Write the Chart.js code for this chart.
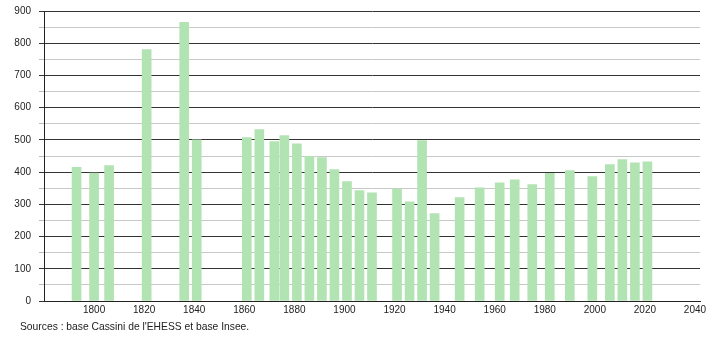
<!DOCTYPE html>
<html>
<head>
<meta charset="utf-8">
<script src="https://cdn.jsdelivr.net/npm/chart.js@4.4.1/dist/chart.umd.min.js"></script>
<style>
  body { margin: 0; background: #fff; }
  #wrap { position: relative; width: 710px; height: 340px; overflow: hidden; }
  #popChart { position: absolute; left: 0; top: -3px; }
  #source { position: absolute; left: 20px; top: 321px; font: 10.3px "Liberation Sans", Arial, sans-serif; color: #222; }
</style>
</head>
<body>
<div id="wrap">
  <canvas id="popChart" width="710" height="343"></canvas>
  <div id="source">Sources : base Cassini de l'EHESS et base Insee.</div>
</div>
<script>
// census years and population
var years = [1793, 1800, 1806, 1821, 1836, 1841, 1861, 1866, 1872, 1876, 1881, 1886, 1891, 1896,
             1901, 1906, 1911, 1921, 1926, 1931, 1936, 1946, 1954, 1962, 1968, 1975, 1982, 1990,
             1999, 2006, 2011, 2016, 2021];
var population = [415, 397, 420, 780, 865, 500, 507, 532, 495, 513, 488, 449, 445, 408,
                  371, 343, 336, 348, 308, 498, 271, 321, 351, 367, 376, 361, 396, 405,
                  386, 423, 439, 429, 432];
var xTickYears = [1800, 1820, 1840, 1860, 1880, 1900, 1920, 1940, 1960, 1980, 2000, 2020, 2040];
var yTickValues = [0, 100, 200, 300, 400, 500, 600, 700, 800, 900];

var points = [];
for (var i = 0; i < years.length; i++) {
    points.push({x: years[i], y: population[i]});
}

var ctx = document.getElementById('popChart').getContext('2d');
var chart = new Chart(ctx, {
    type: 'bar',
    data: {
        datasets: [{
            data: points,
            backgroundColor: 'rgb(178, 227, 178)',
            borderWidth: 0,
            barThickness: 9
        }]
    },
    options: {
        responsive: false,
        animation: false,
        events: [],
        layout: { padding: { top: 0, right: 10, bottom: 21, left: 0 } },
        plugins: { legend: { display: false }, tooltip: { enabled: false } },
        scales: {
            x: {
                type: 'linear',
                min: 1780,
                max: 2042,
                offset: false,
                grid: { display: false, drawTicks: false },
                border: { color: '#222', width: 1 },
                afterBuildTicks: function(axis) {
                    axis.ticks = xTickYears.map(function(v) { return {value: v}; });
                },
                ticks: {
                    autoSkip: false,
                    maxRotation: 0,
                    padding: 3,
                    color: '#222',
                    font: { family: 'Liberation Sans', size: 10 },
                    callback: function(v) { return String(v); }
                }
            },
            y: {
                min: 0,
                max: 900,
                afterFit: function(axis) { axis.width = 44; },
                afterBuildTicks: function(axis) {
                    var t = [];
                    for (var v = 0; v <= 900; v += 50) t.push({value: v});
                    axis.ticks = t;
                },
                grid: {
                    color: function(c) {
                        return c.tick && c.tick.value % 100 === 0 ? '#333' : '#c8c8c8';
                    },
                    tickColor: function(c) {
                        return c.tick && c.tick.value % 100 === 0 ? '#333' : '#bbb';
                    },
                    tickLength: 5,
                    lineWidth: 1
                },
                border: { color: '#222', width: 1 },
                ticks: {
                    autoSkip: false,
                    padding: 8,
                    color: '#222',
                    font: { family: 'Liberation Sans', size: 10 },
                    callback: function(v) {
                        return yTickValues.indexOf(v) >= 0 ? String(v) : '';
                    }
                }
            }
        }
    }
});
</script>
</body>
</html>
